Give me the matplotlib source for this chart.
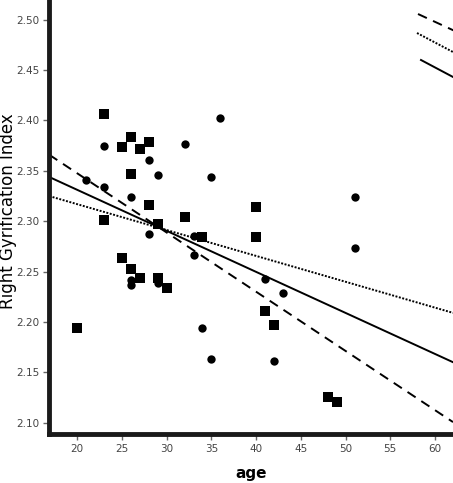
import numpy as np
import matplotlib
matplotlib.use('Agg')
import matplotlib.pyplot as plt

# squares (group 1)
sq_age = [23, 25, 26, 27, 28, 26, 28, 23, 29, 32, 34, 40, 40, 25, 26, 27, 29, 30, 20, 41, 42, 48, 49]
sq_gi = [2.406, 2.374, 2.384, 2.372, 2.379, 2.347, 2.316, 2.301, 2.297, 2.304, 2.284, 2.314, 2.284,
         2.263, 2.253, 2.244, 2.244, 2.234, 2.194, 2.211, 2.197, 2.126, 2.121]

# circles (group 2)
ci_age = [23, 21, 23, 26, 28, 29, 32, 35, 36, 28, 33, 26, 26, 29, 33, 34, 35, 51, 51, 41, 43, 42]
ci_gi = [2.375, 2.341, 2.334, 2.324, 2.361, 2.346, 2.377, 2.344, 2.402, 2.287, 2.285, 2.242, 2.237,
         2.239, 2.266, 2.194, 2.163, 2.324, 2.273, 2.243, 2.229, 2.161]

# fit lines: dashed, dotted, solid
fit_intercept = [2.4650, 2.3682, 2.4125]
fit_slope = [-0.005876, -0.002567, -0.004071]
fit_style = ['--', ':', '-']

xlim = (16.86, 62.01)
ylim = (2.0888, 2.5195)

fig = plt.figure(figsize=(4.53, 4.83), dpi=100)
ax = fig.add_axes([49.2 / 453, (483 - 434) / 483, (453 - 49.2) / 453, 434 / 483])

ax.scatter(sq_age, sq_gi, marker='s', s=42, color='black', zorder=3, linewidths=0)
ax.scatter(ci_age, ci_gi, marker='o', s=36, color='black', zorder=3, linewidths=0)

xs = np.array(xlim)
for b, m, ls in zip(fit_intercept, fit_slope, fit_style):
    if ls == '--':
        ax.plot(xs, b + m * xs, color='black', lw=1.4, dashes=(5, 3.5))
    elif ls == ':':
        ax.plot(xs, b + m * xs, color='black', lw=1.4, dashes=(1, 0.8))
    else:
        ax.plot(xs, b + m * xs, color='black', lw=1.4)

ax.set_xlim(xlim)
ax.set_ylim(ylim)
ax.set_xticks([20, 25, 30, 35, 40, 45, 50, 55, 60])
ax.set_yticks([2.10, 2.15, 2.20, 2.25, 2.30, 2.35, 2.40, 2.45, 2.50])
ax.set_yticklabels(['%.2f' % v for v in ax.get_yticks()])

for s in ['top', 'right']:
    ax.spines[s].set_visible(False)
for s in ['left', 'bottom']:
    ax.spines[s].set_linewidth(3.5)
    ax.spines[s].set_color('#1a1a1a')
ax.tick_params(direction='out', length=4, width=1, color='#666', labelsize=7.5,
               labelcolor='#444', pad=3)

ax.set_xlabel('age', fontsize=11, fontweight='bold', labelpad=9)
fig.text(8 / 453, (483 - 211) / 483, 'Right Gyrification Index', rotation=90,
         fontsize=12, ha='center', va='center')

# legend glyphs (diagonal, cut off on the right)
leg = [((418, 14), (470, 38), '--'), ((417, 33), (470, 61), ':'), ((421, 60), (470, 86), '-')]
for (x0, y0), (x1, y1), ls in leg:
    kw = dict(color='black', lw=1.4, transform=fig.transFigure, clip_on=False)
    if ls == '--':
        kw['dashes'] = (5, 3.5)
    elif ls == ':':
        kw['dashes'] = (1, 0.8)
    fig.add_artist(plt.Line2D([x0 / 453, x1 / 453], [1 - y0 / 483, 1 - y1 / 483], **kw))

fig.savefig('out.png', dpi=100)
